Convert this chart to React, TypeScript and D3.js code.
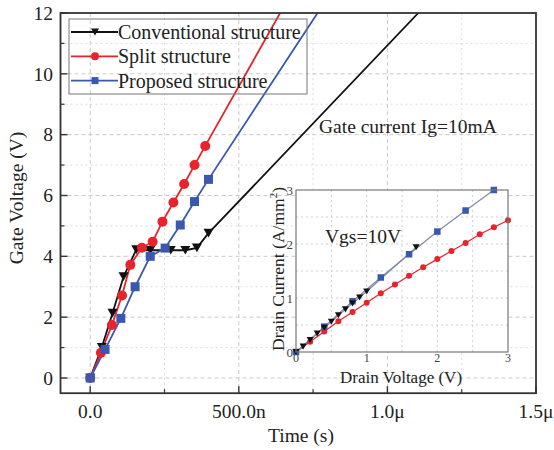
import React from "react";
import * as d3 from "d3";

// ---------- main chart data (time in ns, gate voltage in V) ----------
const convTime = [0, 39, 75, 112, 155, 202, 271, 320, 359, 398, 1104];
const convVolt = [0, 1.01, 2.13, 3.33, 4.22, 4.2, 4.2, 4.2, 4.28, 4.76, 12];
const splitTime = [0, 36, 73, 107, 135, 174, 210, 243, 280, 316, 351, 387, 639];
const splitVolt = [0, 0.83, 1.74, 2.71, 3.72, 4.28, 4.48, 5.14, 5.77, 6.38, 7.0, 7.63, 12];
const propTime = [0, 50, 103, 151, 202, 252, 303, 351, 398, 765];
const propVolt = [0, 0.94, 1.96, 3.0, 4.0, 4.27, 5.03, 5.8, 6.53, 12];

const xMajorTicks = [0, 500, 1000, 1500];
const xTickLabels = ["0.0", "500.0n", "1.0\u03bc", "1.5\u03bc"];
const xMinorTicks = [250, 750, 1250];
const yMajorTicks = [0, 2, 4, 6, 8, 10, 12];
const yMinorTicks = [1, 3, 5, 7, 9, 11];

const legendLabels = ["Conventional structure", "Split structure", "Proposed structure"];

// ---------- inset data (drain voltage V, drain current A/mm^2) ----------
const insetPropV = [0, 0.4, 0.8, 1.2, 1.6, 2.0, 2.4, 2.8];
const insetPropI = [0, 0.47, 0.94, 1.38, 1.81, 2.23, 2.62, 3.0];
const insetConvV = [0, 0.1, 0.2, 0.3, 0.4, 0.5, 0.6, 0.7, 0.8, 0.9, 1.0, 1.7];
const insetConvI = [0, 0.1, 0.22, 0.34, 0.45, 0.56, 0.68, 0.79, 0.9, 1.01, 1.12, 1.94];
const insetSplitV = [0, 0.2, 0.4, 0.6, 0.8, 1.0, 1.2, 1.4, 1.6, 1.8, 2.0, 2.2, 2.4, 2.6, 2.8, 3.0];
const insetSplitI = [0, 0.19, 0.38, 0.57, 0.74, 0.91, 1.09, 1.25, 1.41, 1.57, 1.72, 1.87, 2.02, 2.18, 2.31, 2.44];
const insetTicks = [0, 1, 2, 3];
const insetGrid = [0.5, 1, 1.5, 2, 2.5];

const RED = "#e8232b";
const BLUE = "#3b58b0";
const BLACK = "#111111";
const FONT = "Liberation Serif, Times New Roman, DejaVu Serif, serif";

function tri(cx: number, cy: number, s: number) {
  const h = s * 0.87;
  return `M${cx - s / 2},${cy - h / 2}L${cx + s / 2},${cy - h / 2}L${cx},${cy + h / 2}Z`;
}

function Marker({ kind, x, y, s, color }: { kind: string; x: number; y: number; s: number; color: string }) {
  if (kind === "tri") return <path d={tri(x, y, s)} fill={color} />;
  if (kind === "circ") return <circle cx={x} cy={y} r={s / 2} fill={color} />;
  return <rect x={x - s / 2} y={y - s / 2} width={s} height={s} fill={color} />;
}

export default function App() {
  const W = 554, H = 450;
  const x = d3.scaleLinear().domain([-100, 1500]).range([60.5, 536]);
  const y = d3.scaleLinear().domain([-0.5, 12]).range([393.2, 13]);
  const L = x(-100), R = x(1500), T = y(12), B = y(-0.5);

  const line = d3.line<[number, number]>().x((d) => x(d[0])).y((d) => y(d[1]));
  const zip = (a: number[], b: number[]) => a.map((v, i) => [v, b[i]] as [number, number]);

  const mainSeries = [
    { t: convTime, v: convVolt, color: BLACK, kind: "tri", s: 10 },
    { t: splitTime, v: splitVolt, color: RED, kind: "circ", s: 10 },
    { t: propTime, v: propVolt, color: BLUE, kind: "sq", s: 9 },
  ];

  // inset
  const ix = d3.scaleLinear().domain([0, 3]).range([296, 508]);
  const iy = d3.scaleLinear().domain([0, 3]).range([352, 190]);
  const iline = d3.line<[number, number]>().x((d) => ix(d[0])).y((d) => iy(d[1]));
  const insetSeries = [
    { v: insetSplitV, i: insetSplitI, line: RED, color: RED, kind: "circ", s: 6 },
    { v: insetPropV, i: insetPropI, line: "#7f8aa8", color: BLUE, kind: "sq", s: 6.5 },
    { v: insetConvV, i: insetConvI, line: "#7f8aa8", color: BLACK, kind: "tri", s: 7 },
  ];

  const legendRows = [
    { color: BLACK, kind: "tri", s: 8 },
    { color: RED, kind: "circ", s: 8 },
    { color: BLUE, kind: "sq", s: 7 },
  ];

  return (
    <svg width={W} height={H} style={{ position: "absolute", left: 0, top: 0, background: "#fff", fontFamily: FONT }}>
      <defs>
        <clipPath id="mainclip">
          <rect x={L} y={T} width={R - L} height={B - T} />
        </clipPath>
      </defs>
      <rect x={0} y={0} width={W} height={H} fill="#fff" />

      {/* grid */}
      {xMajorTicks.slice(0, 3).map((t) => (
        <line key={"gx" + t} x1={x(t)} x2={x(t)} y1={T} y2={B} stroke="#c9c9c9" strokeDasharray="4,3" strokeWidth={1} />
      ))}
      {xMinorTicks.map((t) => (
        <line key={"gxm" + t} x1={x(t)} x2={x(t)} y1={T} y2={B} stroke="#dcdcdc" strokeDasharray="2,3" strokeWidth={1} />
      ))}
      {yMajorTicks.slice(0, 6).map((t) => (
        <line key={"gy" + t} x1={L} x2={R} y1={y(t)} y2={y(t)} stroke="#c9c9c9" strokeDasharray="4,3" strokeWidth={1} />
      ))}
      {yMinorTicks.map((t) => (
        <line key={"gym" + t} x1={L} x2={R} y1={y(t)} y2={y(t)} stroke="#dcdcdc" strokeDasharray="2,3" strokeWidth={1} />
      ))}

      {/* main series */}
      <g clipPath="url(#mainclip)">
        {mainSeries.map((s, k) => (
          <path key={"l" + k} d={line(zip(s.t, s.v)) || ""} fill="none" stroke={s.color} strokeWidth={1.8} />
        ))}
        {mainSeries.map((s, k) =>
          s.t.map((t, i) =>
            s.v[i] < 12 ? <Marker key={"m" + k + "_" + i} kind={s.kind} x={x(t)} y={y(s.v[i])} s={s.s} color={s.color} /> : null
          )
        )}
      </g>

      {/* frame */}
      <rect x={L} y={T} width={R - L} height={B - T} fill="none" stroke="#333" strokeWidth={1.8} />

      {/* ticks */}
      {xMajorTicks.map((t) => (
        <line key={"tx" + t} x1={x(t)} x2={x(t)} y1={B} y2={B - 7} stroke="#333" strokeWidth={1.4} />
      ))}
      {xMinorTicks.map((t) => (
        <line key={"txm" + t} x1={x(t)} x2={x(t)} y1={B} y2={B - 4} stroke="#333" strokeWidth={1.2} />
      ))}
      {yMajorTicks.map((t) => (
        <line key={"ty" + t} x1={L} x2={L + 7} y1={y(t)} y2={y(t)} stroke="#333" strokeWidth={1.4} />
      ))}
      {yMinorTicks.map((t) => (
        <line key={"tym" + t} x1={L} x2={L + 4} y1={y(t)} y2={y(t)} stroke="#333" strokeWidth={1.2} />
      ))}

      {/* tick labels */}
      {xMajorTicks.map((t, i) => (
        <text key={"xl" + t} x={x(t)} y={418} textAnchor="middle" fontSize={19.5} fill="#222">
          {xTickLabels[i]}
        </text>
      ))}
      {yMajorTicks.map((t) => (
        <text key={"yl" + t} x={53} y={y(t)} dy="0.35em" textAnchor="end" fontSize={19.5} fill="#222">
          {t}
        </text>
      ))}

      {/* axis titles */}
      <text x={301} y={442} textAnchor="middle" fontSize={19.5} fill="#222">Time (s)</text>
      <text transform={`translate(16,${198}) rotate(-90)`} textAnchor="middle" dy="0.35em" fontSize={19.5} fill="#222">
        Gate Voltage (V)
      </text>

      {/* legend */}
      <rect x={69} y={19} width={238} height={75} fill="none" stroke="#777" strokeWidth={1} />
      {legendRows.map((r, i) => {
        const cy = 32 + i * 24.3;
        return (
          <g key={"lg" + i}>
            <line x1={71} x2={118} y1={cy} y2={cy} stroke={r.color} strokeWidth={1.8} />
            <Marker kind={r.kind} x={95} y={cy} s={r.s} color={r.color} />
            <text x={118} y={cy} dy="0.35em" fontSize={20} fill="#222">{legendLabels[i]}</text>
          </g>
        );
      })}

      <text x={319} y={133} fontSize={19.5} fill="#222">Gate current Ig=10mA</text>

      {/* inset */}
      <rect x={ix(0)} y={iy(3)} width={ix(3) - ix(0)} height={iy(0) - iy(3)} fill="#fff" />
      {insetGrid.map((g) => (
        <g key={"ig" + g}>
          <line x1={ix(g)} x2={ix(g)} y1={iy(0)} y2={iy(3)} stroke="#cfcfcf" strokeDasharray="2,3" />
          <line x1={ix(0)} x2={ix(3)} y1={iy(g)} y2={iy(g)} stroke="#cfcfcf" strokeDasharray="2,3" />
        </g>
      ))}
      {insetSeries.map((s, k) => (
        <path key={"il" + k} d={iline(zip(s.v, s.i)) || ""} fill="none" stroke={s.line} strokeWidth={1.2} />
      ))}
      {insetSeries.map((s, k) =>
        s.v.map((v, i) => <Marker key={"im" + k + "_" + i} kind={s.kind} x={ix(v)} y={iy(s.i[i])} s={s.s} color={s.color} />)
      )}
      <rect x={ix(0)} y={iy(3)} width={ix(3) - ix(0)} height={iy(0) - iy(3)} fill="none" stroke="#777" strokeWidth={1.2} />
      {insetTicks.map((t) => (
        <text key={"ixl" + t} x={ix(t)} y={362} textAnchor="middle" fontSize={12} fill="#444">{t}</text>
      ))}
      {insetTicks.map((t) => (
        <text key={"iyl" + t} x={293} y={iy(t)} dy="0.35em" textAnchor="end" fontSize={13} fill="#444">{t}</text>
      ))}
      <text x={401} y={383} textAnchor="middle" fontSize={17} fill="#222">Drain Voltage  (V)</text>
      <text transform={`translate(278,${269}) rotate(-90)`} textAnchor="middle" dy="0.35em" fontSize={17.5} fill="#222">
        Drain Current  (A/mm<tspan dy="-7" fontSize={11}>2</tspan><tspan dy="7">)</tspan>
      </text>
      <text x={325} y={243} fontSize={19.5} fill="#222">Vgs=10V</text>
    </svg>
  );
}
